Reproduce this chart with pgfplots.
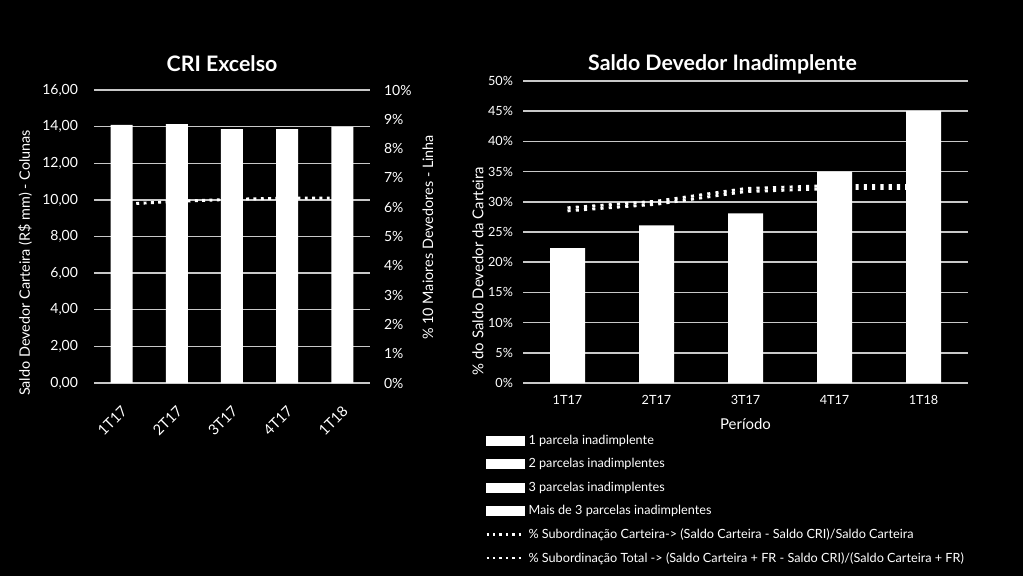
\documentclass[border=0pt]{standalone}
\usepackage{fontspec}
\setmainfont{Lato}
\usepackage{pgfplots}
\pgfplotsset{compat=1.18}
\definecolor{gridc}{RGB}{200,200,200}
\begin{document}
\begin{tikzpicture}
\fill[black] (0,0) rectangle (767.25pt,432pt);

% ---- left chart: line on the right axis (drawn first, behind the bars)
\begin{axis}[
    at={(70.5pt,144.75pt)}, anchor=south west,
    scale only axis, width=207pt, height=219.75pt,
    xmin=-0.5, xmax=4.5, ymin=0, ymax=10,
    axis x line=none,
    axis y line*=right,
    axis line style={draw=none},
    major tick length=0pt,
    ytick={0,1,...,10},
    yticklabel={\pgfmathprintnumber{\tick}\%},
    /pgf/number format/assume math mode=true,
    extra y ticks={0,2.5,5,7.5,10,1.25,3.75,6.25,8.75},
    extra y tick labels={},
    extra y tick style={grid=major},
    major grid style={gridc, line width=1.1pt},
    tick label style={white, font=\fontsize{10.5}{12}\selectfont},
    yticklabel style={xshift=7pt},
    ylabel={\% 10 Maiores Devedores - Linha},
    ylabel style={white, font=\fontsize{10.8}{12}\selectfont, at={(axis description cs:1.21,0.497)}, anchor=center},
]
\addplot[white, line width=2.2pt, dash pattern=on 2.2pt off 3.3pt] coordinates {
    (0,6.10) (1,6.20) (2,6.27) (3,6.31) (4,6.31)
};
\end{axis}

% ---- left chart: bars on the left axis
\begin{axis}[
    at={(70.5pt,144.75pt)}, anchor=south west,
    scale only axis, width=207pt, height=219.75pt,
    xmin=-0.5, xmax=4.5, ymin=0, ymax=16,
    axis line style={draw=none},
    axis y line*=left, axis x line*=bottom,
    major tick length=0pt,
    ytick={0,2,...,16},
    yticklabel={\pgfmathprintnumber{\tick}},
    /pgf/number format/.cd, assume math mode=true, fixed, fixed zerofill, precision=2, use comma,
    /pgfplots/.cd,
    xtick={0,...,4},
    xticklabels={1T17,2T17,3T17,4T17,1T18},
    tick label style={white, font=\fontsize{10.5}{12}\selectfont},
    yticklabel style={xshift=-8.5pt},
    xticklabel style={rotate=45, anchor=north east, inner sep=1pt, xshift=-11pt, yshift=-10pt, font=\fontsize{11}{13}\selectfont},
    ylabel={Saldo Devedor Carteira (R\$ mm) - Colunas},
    ylabel style={white, font=\fontsize{10.8}{12}\selectfont, at={(axis description cs:-0.25,0.41)}, anchor=center},
    title={CRI Excelso},
    title style={white, font=\bfseries\fontsize{16}{18}\selectfont, anchor=base, at={(0.5,1)}, yshift=8pt, xshift=-7.5pt},
]
\addplot[ybar, bar width=16.5pt, bar shift=0pt, fill=white, draw=none] coordinates {
    (0,14.09) (1,14.14) (2,13.87) (3,13.87) (4,13.98)
};
\end{axis}

% ---- right chart
\begin{axis}[
    at={(392.25pt,144.75pt)}, anchor=south west,
    scale only axis, width=333.75pt, height=226.5pt,
    xmin=-0.5, xmax=4.5, ymin=0, ymax=50,
    axis line style={draw=none},
    major tick length=0pt,
    ymajorgrids,
    major grid style={gridc, line width=1.1pt},
    ytick={0,5,...,50},
    yticklabel={\pgfmathprintnumber{\tick}\%},
    /pgf/number format/assume math mode=true,
    xtick={0,...,4},
    xticklabels={1T17,2T17,3T17,4T17,1T18},
    tick label style={white, font=\fontsize{9.5}{11}\selectfont},
    xticklabel style={yshift=-6pt},
    yticklabel style={xshift=-4pt},
    xlabel={Período},
    xlabel style={yshift=-3pt},
    ylabel={\% do Saldo Devedor da Carteira},
    label style={white, font=\fontsize{11.2}{13}\selectfont},
    ylabel style={at={(axis description cs:-0.101,0.371)}, anchor=center},
    title={Saldo Devedor Inadimplente},
    title style={white, font=\bfseries\fontsize{16}{18}\selectfont, anchor=base, at={(0.5,1)}, yshift=2pt, xshift=-17.25pt},
    legend style={at={(axis description cs:-0.085,-0.163)}, anchor=north west,
        draw=none, fill=none, text=white, font=\fontsize{9.5}{11}\selectfont,
        row sep=5pt, inner sep=0pt},
    legend cell align=left,
]
\addplot[white, line width=2.2pt, dash pattern=on 2.3pt off 3.9pt, forget plot] coordinates {
    (0,28.5) (1,29.6) (2,31.7) (3,32.2) (4,32.2)
};
\addplot[white, line width=2.2pt, dash pattern=on 2.3pt off 3.9pt, forget plot] coordinates {
    (0,29.0) (1,30.1) (2,32.2) (3,32.7) (4,32.7)
};
\addplot[ybar, bar width=26.25pt, bar shift=0pt, fill=white, draw=none, forget plot] coordinates {
    (0,22.35) (1,26.1) (2,28.1) (3,35.0) (4,45.0)
};
\addlegendimage{legend image code/.code={\fill[white] (0pt,-3.4pt) rectangle (28.5pt,3.4pt);}}
\addlegendimage{legend image code/.code={\fill[white] (0pt,-3.4pt) rectangle (28.5pt,3.4pt);}}
\addlegendimage{legend image code/.code={\fill[white] (0pt,-3.4pt) rectangle (28.5pt,3.4pt);}}
\addlegendimage{legend image code/.code={\fill[white] (0pt,-3.4pt) rectangle (28.5pt,3.4pt);}}
\addlegendimage{legend image code/.code={\draw[white, line width=1.8pt, dash pattern=on 1.8pt off 3pt] (0pt,0pt) -- (28.5pt,0pt);}}
\addlegendimage{legend image code/.code={\draw[white, line width=1.8pt, dash pattern=on 1.8pt off 3pt] (0pt,0pt) -- (28.5pt,0pt);}}
\legend{1 parcela inadimplente, 2 parcelas inadimplentes, 3 parcelas inadimplentes, Mais de 3 parcelas inadimplentes,
    \% Subordinação Carteira-> (Saldo Carteira - Saldo CRI)/Saldo Carteira,
    \% Subordinação Total -> (Saldo Carteira + FR - Saldo CRI)/(Saldo Carteira + FR)}
\end{axis}
\pgfresetboundingbox
\useasboundingbox (0,0) rectangle (767.25pt,432pt);
\end{tikzpicture}
\end{document}
